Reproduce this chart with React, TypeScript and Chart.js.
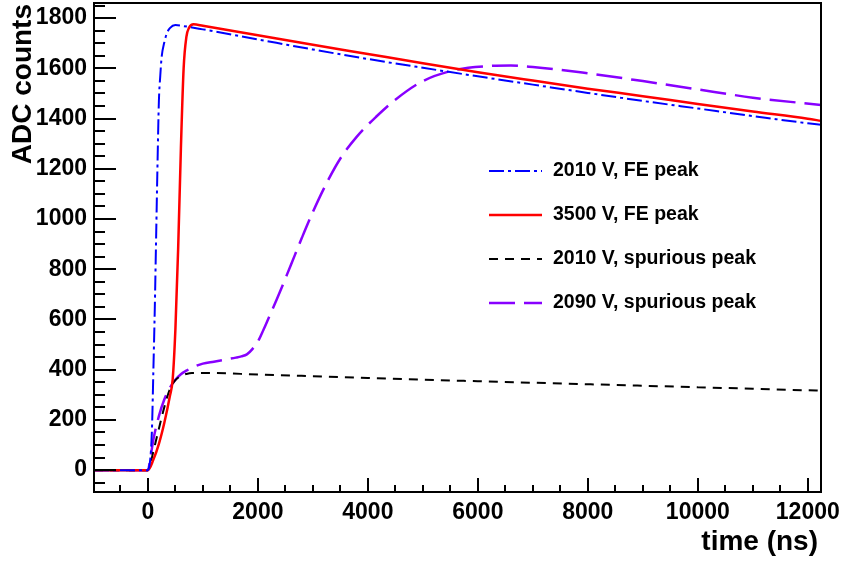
import React, { useEffect, useRef } from "react";
import { Chart, registerables } from "chart.js";

Chart.register(...registerables);

// ---------- data ----------
const seriesLabels = [
  "2010 V, FE peak",
  "3500 V, FE peak",
  "2010 V, spurious peak",
  "2090 V, spurious peak",
];

const xBlue = [-980, 0, 25, 50, 75, 100, 125, 150, 175, 200, 225, 250, 300, 350, 400, 500, 650, 1000, 2000, 3000, 4000, 5000, 6000, 7000, 8000, 9000, 10000, 11000, 12000, 12240];
const yBlue = [0, 0, 15, 60, 170, 400, 640, 930, 1220, 1470, 1570, 1645, 1705, 1742, 1760, 1772, 1768, 1755, 1715, 1675, 1637, 1602, 1568, 1535, 1502, 1470, 1440, 1410, 1381, 1375];

const xRed = [-980, 0, 100, 200, 300, 400, 450, 500, 550, 600, 650, 700, 750, 830, 1000, 2000, 3000, 4000, 5000, 6000, 7000, 8000, 9000, 10000, 11000, 12000, 12240];
const yRed = [0, 0, 42, 105, 190, 295, 360, 560, 880, 1280, 1600, 1725, 1762, 1775, 1769, 1732, 1694, 1657, 1620, 1584, 1551, 1519, 1489, 1458, 1428, 1399, 1391];

const xBlack = [-980, 0, 50, 100, 200, 300, 400, 500, 600, 700, 800, 1000, 2000, 3000, 4000, 5000, 6000, 7000, 8000, 9000, 10000, 11000, 12000, 12240];
const yBlack = [0, 0, 30, 75, 165, 252, 322, 358, 375, 383, 387, 387, 381, 374, 367, 360, 354, 348, 342, 336, 330, 324, 318, 317];

const xPurple = [-980, 0, 50, 100, 200, 300, 400, 500, 600, 700, 800, 1000, 1200, 1400, 1600, 1700, 1800, 1900, 2000, 2100, 2200, 2350, 2600, 2800, 3000, 3250, 3500, 3800, 4150, 4500, 5000, 5600, 6200, 6600, 7000, 7900, 9000, 10300, 11000, 12240];
const yPurple = [0, 0, 55, 122, 215, 282, 328, 360, 382, 396, 408, 424, 432, 440, 448, 453, 461, 482, 512, 558, 608, 683, 817, 925, 1028, 1143, 1241, 1328, 1407, 1475, 1549, 1594, 1609, 1611, 1605, 1583, 1549, 1506, 1483, 1454];

const xTickValues = [0, 2000, 4000, 6000, 8000, 10000, 12000];
const yTickValues = [0, 200, 400, 600, 800, 1000, 1200, 1400, 1600, 1800];
const xRange = [-980, 12240];
const yRange = [-87, 1860];
const xTitle = "time (ns)";
const yTitle = "ADC counts";

// ---------- styles ----------
const FONT = '"Liberation Sans", Arial, Helvetica, sans-serif';

function toPoints(xs: number[], ys: number[]) {
  return xs.map((x, i) => ({ x, y: ys[i] }));
}

const rootDecor = {
  id: "rootDecor",
  afterDatasetsDraw(chart: any) {
    const { ctx, chartArea: a, scales } = chart;
    const xs = scales.x;
    const ys = scales.y;
    ctx.save();
    ctx.strokeStyle = "#000";
    ctx.fillStyle = "#000";
    ctx.lineWidth = 2;

    // inside ticks, x axis
    const xStep = xTickValues[1] - xTickValues[0];
    const xMinor = xStep / 4;
    ctx.beginPath();
    for (let v = Math.ceil(xs.min / xMinor) * xMinor; v <= xs.max; v += xMinor) {
      const px = Math.round(xs.getPixelForValue(v));
      const major = Math.abs(Math.round(v / xStep) * xStep - v) < 1e-6;
      const len = major ? 14 : 7;
      ctx.moveTo(px, a.bottom);
      ctx.lineTo(px, a.bottom - len);
    }
    // inside ticks, y axis
    const yStep = yTickValues[1] - yTickValues[0];
    const yMinor = yStep / 4;
    for (let v = Math.ceil(ys.min / yMinor) * yMinor; v <= ys.max; v += yMinor) {
      const py = Math.round(ys.getPixelForValue(v));
      const major = Math.abs(Math.round(v / yStep) * yStep - v) < 1e-6;
      const len = major ? 22 : 11;
      ctx.moveTo(a.left, py);
      ctx.lineTo(a.left + len, py);
    }
    ctx.stroke();

    // frame
    ctx.strokeRect(a.left, a.top, a.right - a.left, a.bottom - a.top);

    // axis titles
    ctx.font = `bold 28px ${FONT}`;
    ctx.textAlign = "right";
    ctx.textBaseline = "alphabetic";
    ctx.fillText(xTitle, a.right - 3, 550);

    ctx.save();
    ctx.translate(31, a.top + 1);
    ctx.rotate(-Math.PI / 2);
    ctx.textAlign = "right";
    ctx.textBaseline = "alphabetic";
    ctx.fillText(yTitle, 0, 0);
    ctx.restore();

    // legend
    const lx0 = 489, lx1 = 542, tx = 553, ry0 = 171, rdy = 44;
    chart.data.datasets.forEach((ds: any, i: number) => {
      const y = ry0 + i * rdy;
      ctx.save();
      ctx.strokeStyle = ds.borderColor;
      ctx.lineWidth = ds.borderWidth;
      ctx.setLineDash(ds.borderDash || []);
      ctx.beginPath();
      ctx.moveTo(lx0, y);
      ctx.lineTo(lx1, y);
      ctx.stroke();
      ctx.restore();
      ctx.font = `bold 19.5px ${FONT}`;
      ctx.textAlign = "left";
      ctx.textBaseline = "middle";
      ctx.fillStyle = "#000";
      ctx.fillText(ds.label, tx, y);
    });

    ctx.restore();
  },
};

export default function App() {
  const ref = useRef<HTMLCanvasElement | null>(null);

  useEffect(() => {
    document.body.style.margin = "0";
    const canvas = ref.current;
    if (!canvas) return;
    const tickFont = { family: FONT, size: 23, weight: "bold" as const };
    const chart = new Chart(canvas, {
      type: "line",
      data: {
        datasets: [
          {
            label: seriesLabels[0],
            data: toPoints(xBlue, yBlue),
            borderColor: "#0000ff",
            borderWidth: 2,
            borderDash: [15, 4, 3, 4],
            pointRadius: 0,
            cubicInterpolationMode: "monotone",
            fill: false,
          },
          {
            label: seriesLabels[1],
            data: toPoints(xRed, yRed),
            borderColor: "#ff0000",
            borderWidth: 2.5,
            borderDash: [],
            pointRadius: 0,
            cubicInterpolationMode: "monotone",
            fill: false,
          },
          {
            label: seriesLabels[2],
            data: toPoints(xBlack, yBlack),
            borderColor: "#000000",
            borderWidth: 2,
            borderDash: [9, 7],
            pointRadius: 0,
            cubicInterpolationMode: "monotone",
            fill: false,
          },
          {
            label: seriesLabels[3],
            data: toPoints(xPurple, yPurple),
            borderColor: "#8800ff",
            borderWidth: 2.5,
            borderDash: [26, 9],
            pointRadius: 0,
            cubicInterpolationMode: "monotone",
            fill: false,
          },
        ],
      },
      options: {
        responsive: false,
        animation: false,
        events: [],
        layout: { padding: { left: 0, right: 20, top: 3, bottom: 0 } },
        plugins: {
          legend: { display: false },
          tooltip: { enabled: false },
          title: { display: false },
        },
        scales: {
          x: {
            type: "linear",
            min: xRange[0],
            max: xRange[1],
            afterBuildTicks: (s: any) => {
              s.ticks = xTickValues.map((value) => ({ value }));
            },
            afterFit: (s: any) => {
              s.height = 71;
              s.paddingLeft = 0;
              s.paddingRight = 0;
            },
            grid: { display: false, drawTicks: false },
            border: { display: false },
            ticks: {
              font: tickFont,
              color: "#000",
              padding: 7,
              maxRotation: 0,
              autoSkip: false,
              callback: (v: any) => String(v),
            },
          },
          y: {
            type: "linear",
            min: yRange[0],
            max: yRange[1],
            afterBuildTicks: (s: any) => {
              s.ticks = yTickValues.map((value) => ({ value }));
            },
            afterFit: (s: any) => {
              s.width = 94;
              s.paddingTop = 0;
              s.paddingBottom = 0;
            },
            grid: { display: false, drawTicks: false },
            border: { display: false },
            ticks: {
              font: tickFont,
              color: "#000",
              padding: 7,
              autoSkip: false,
              callback: (v: any) => String(v),
            },
          },
        },
      },
      plugins: [rootDecor],
    });
    return () => chart.destroy();
  }, []);

  return (
    <div style={{ width: 841, height: 563, background: "#fff" }}>
      <canvas ref={ref} width={841} height={563} style={{ width: 841, height: 563, display: "block" }} />
    </div>
  );
}
